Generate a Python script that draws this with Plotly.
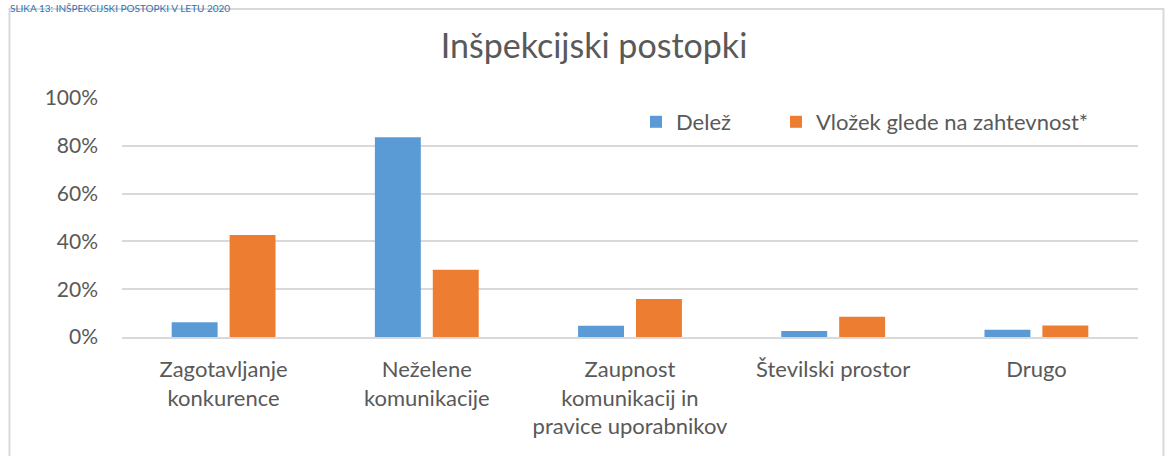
import plotly.graph_objects as go

categories = [
    "Zagotavljanje<br>konkurence",
    "Neželene<br>komunikacije",
    "Zaupnost<br>komunikacij in<br>pravice uporabnikov",
    "Številski prostor",
    "Drugo",
]
delez = [0.062, 0.836, 0.047, 0.025, 0.030]
vlozek = [0.427, 0.281, 0.159, 0.085, 0.048]
series_names = ["Delež", "Vložek glede na zahtevnost*"]
y_ticks = [0, 0.2, 0.4, 0.6, 0.8, 1.0]
y_tick_labels = ["0%", "20%", "40%", "60%", "80%", "100%"]
title_text = "Inšpekcijski postopki"
caption_text = "SLIKA 13: INŠPEKCIJSKI POSTOPKI V LETU 2020"

FONT = "Lato"
TXT = "#595959"
GRID = "#D9D9D9"

W, H = 1165, 456
L, R, T, B = 122, 27, 98, 119
pw, ph = W - L - R, H - T - B


def px_x(x):
    return (x - L) / pw


def px_y(y):
    return (H - B - y) / ph


fig = go.Figure()
fig.add_trace(go.Bar(x=categories, y=delez, name=series_names[0], legend="legend",
                     marker=dict(color="#5B9BD5", line=dict(width=0))))
fig.add_trace(go.Bar(x=categories, y=vlozek, name=series_names[1], legend="legend2",
                     marker=dict(color="#ED7D31", line=dict(width=0))))

leg_common = dict(orientation="h", xanchor="left", yanchor="middle",
                  font=dict(family=FONT, size=22, color=TXT),
                  bgcolor="rgba(0,0,0,0)", borderwidth=0)

fig.update_layout(
    width=W, height=H,
    margin=dict(l=L, r=R, t=T, b=B, pad=0, autoexpand=False),
    paper_bgcolor="white", plot_bgcolor="white",
    barmode="group", bargap=0.43, bargroupgap=0.207,
    font=dict(family=FONT, color=TXT, size=22),
    title=dict(text=title_text, x=594 / W, xanchor="center", xref="container",
               y=1 - 46 / H, yanchor="middle",
               font=dict(family=FONT, size=34, color=TXT)),
    legend=dict(x=px_x(636), y=px_y(122), **leg_common),
    legend2=dict(x=px_x(776), y=px_y(122), **leg_common),
    showlegend=True,
)
fig.update_yaxes(range=[0, 1.0], tickvals=y_ticks, ticktext=y_tick_labels,
                 showgrid=True, gridcolor=GRID, gridwidth=1.5,
                 zeroline=False, showline=False, ticks="",
                 ticklabelstandoff=23,
                 tickfont=dict(family=FONT, size=21, color=TXT))
fig.update_xaxes(showgrid=False, showline=True, linecolor=GRID, linewidth=1.5,
                 ticks="outside", ticklen=12, tickcolor="rgba(0,0,0,0)",
                 tickfont=dict(family=FONT, size=22, color=TXT))

# chart area border
fig.add_shape(type="rect", xref="paper", yref="paper",
              x0=px_x(9.5), x1=px_x(1163.5), y0=px_y(470), y1=px_y(9),
              line=dict(color=GRID, width=2), fillcolor="rgba(0,0,0,0)",
              layer="below")
# caption at top
fig.add_annotation(text=caption_text, xref="paper", yref="paper",
                   x=px_x(8), xanchor="left", y=px_y(0), yanchor="top",
                   showarrow=False, font=dict(family=FONT, size=10, color="#2E74B5"))

fig.write_html("out.html", config={"displayModeBar": False},
               post_script="document.body.style.margin='0';")
